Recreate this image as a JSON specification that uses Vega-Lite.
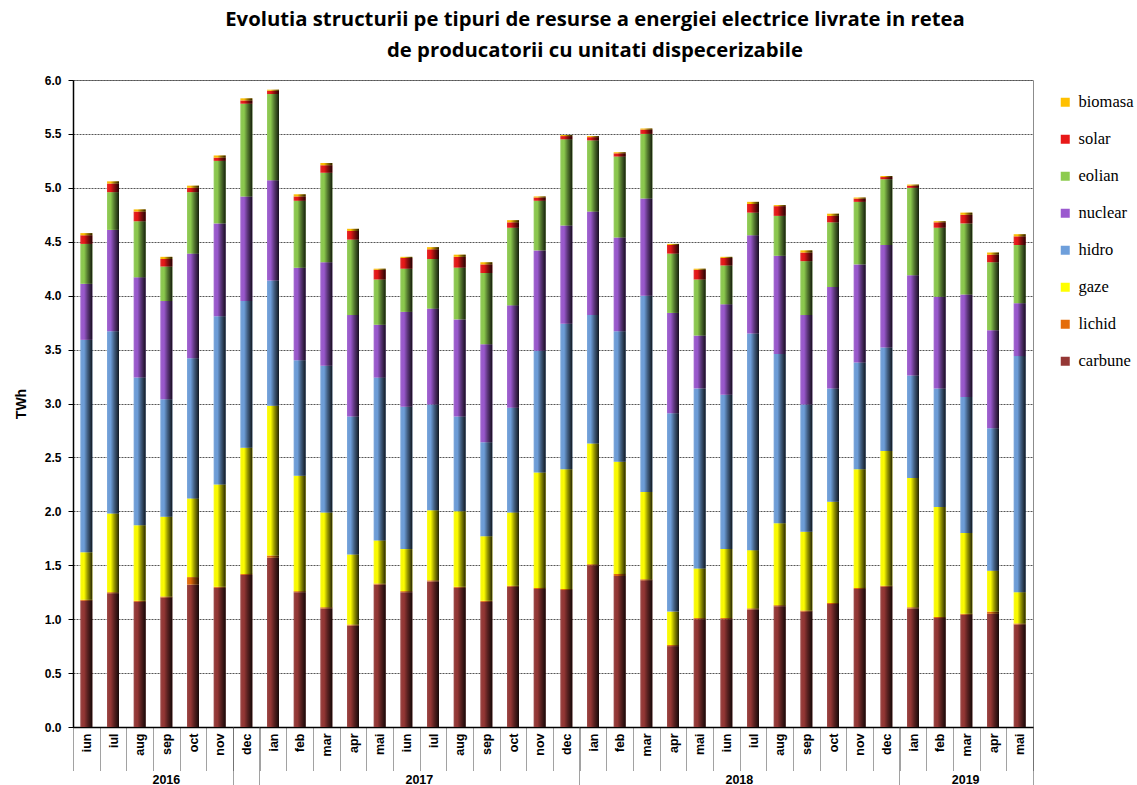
{
  "$schema": "https://vega.github.io/schema/vega-lite/v6.json",
  "width": 960,
  "height": 647,
  "autosize": {"type": "none"},
  "padding": {"left": 73, "top": 80, "right": 104, "bottom": 58},
  "background": "white",
  "title": {
    "text": ["Evolutia structurii pe tipuri de resurse a energiei electrice livrate in retea", "de producatorii cu unitati dispecerizabile"],
    "font": "Open Sans",
    "fontSize": 20.3,
    "fontWeight": "bold",
    "color": "black",
    "anchor": "middle",
    "dx": 42,
    "offset": 13,
    "lineHeight": 31
  },
  "datasets": {
    "types": [
      {"type": "carbune", "o": 1},
      {"type": "lichid", "o": 2},
      {"type": "gaze", "o": 3},
      {"type": "hidro", "o": 4},
      {"type": "nuclear", "o": 5},
      {"type": "eolian", "o": 6},
      {"type": "solar", "o": 7},
      {"type": "biomasa", "o": 8}
    ]
  },
  "data": {
    "values": [
      {"m": "2016-06", "carbune": 1.17, "lichid": 0.01, "gaze": 0.44, "hidro": 1.97, "nuclear": 0.52, "eolian": 0.37, "solar": 0.08, "biomasa": 0.02},
      {"m": "2016-07", "carbune": 1.24, "lichid": 0.01, "gaze": 0.73, "hidro": 1.69, "nuclear": 0.94, "eolian": 0.35, "solar": 0.08, "biomasa": 0.02},
      {"m": "2016-08", "carbune": 1.16, "lichid": 0.01, "gaze": 0.70, "hidro": 1.37, "nuclear": 0.93, "eolian": 0.52, "solar": 0.09, "biomasa": 0.02},
      {"m": "2016-09", "carbune": 1.20, "lichid": 0.01, "gaze": 0.74, "hidro": 1.09, "nuclear": 0.91, "eolian": 0.32, "solar": 0.07, "biomasa": 0.02},
      {"m": "2016-10", "carbune": 1.32, "lichid": 0.07, "gaze": 0.73, "hidro": 1.30, "nuclear": 0.97, "eolian": 0.57, "solar": 0.04, "biomasa": 0.02},
      {"m": "2016-11", "carbune": 1.29, "lichid": 0.01, "gaze": 0.95, "hidro": 1.56, "nuclear": 0.86, "eolian": 0.58, "solar": 0.03, "biomasa": 0.02},
      {"m": "2016-12", "carbune": 1.41, "lichid": 0.01, "gaze": 1.17, "hidro": 1.36, "nuclear": 0.97, "eolian": 0.86, "solar": 0.03, "biomasa": 0.02},
      {"m": "2017-01", "carbune": 1.57, "lichid": 0.02, "gaze": 1.39, "hidro": 1.16, "nuclear": 0.93, "eolian": 0.80, "solar": 0.03, "biomasa": 0.01},
      {"m": "2017-02", "carbune": 1.25, "lichid": 0.01, "gaze": 1.07, "hidro": 1.07, "nuclear": 0.86, "eolian": 0.62, "solar": 0.04, "biomasa": 0.02},
      {"m": "2017-03", "carbune": 1.10, "lichid": 0.01, "gaze": 0.88, "hidro": 1.36, "nuclear": 0.96, "eolian": 0.83, "solar": 0.07, "biomasa": 0.02},
      {"m": "2017-04", "carbune": 0.94, "lichid": 0.01, "gaze": 0.65, "hidro": 1.28, "nuclear": 0.94, "eolian": 0.70, "solar": 0.08, "biomasa": 0.02},
      {"m": "2017-05", "carbune": 1.32, "lichid": 0.01, "gaze": 0.40, "hidro": 1.51, "nuclear": 0.49, "eolian": 0.42, "solar": 0.09, "biomasa": 0.01},
      {"m": "2017-06", "carbune": 1.25, "lichid": 0.01, "gaze": 0.39, "hidro": 1.32, "nuclear": 0.88, "eolian": 0.40, "solar": 0.10, "biomasa": 0.01},
      {"m": "2017-07", "carbune": 1.35, "lichid": 0.01, "gaze": 0.65, "hidro": 0.98, "nuclear": 0.89, "eolian": 0.46, "solar": 0.09, "biomasa": 0.02},
      {"m": "2017-08", "carbune": 1.29, "lichid": 0.01, "gaze": 0.70, "hidro": 0.88, "nuclear": 0.90, "eolian": 0.48, "solar": 0.10, "biomasa": 0.02},
      {"m": "2017-09", "carbune": 1.16, "lichid": 0.01, "gaze": 0.60, "hidro": 0.87, "nuclear": 0.91, "eolian": 0.66, "solar": 0.08, "biomasa": 0.02},
      {"m": "2017-10", "carbune": 1.30, "lichid": 0.01, "gaze": 0.68, "hidro": 0.97, "nuclear": 0.95, "eolian": 0.72, "solar": 0.05, "biomasa": 0.02},
      {"m": "2017-11", "carbune": 1.28, "lichid": 0.01, "gaze": 1.07, "hidro": 1.13, "nuclear": 0.93, "eolian": 0.46, "solar": 0.03, "biomasa": 0.01},
      {"m": "2017-12", "carbune": 1.27, "lichid": 0.01, "gaze": 1.11, "hidro": 1.35, "nuclear": 0.91, "eolian": 0.80, "solar": 0.03, "biomasa": 0.01},
      {"m": "2018-01", "carbune": 1.50, "lichid": 0.01, "gaze": 1.12, "hidro": 1.19, "nuclear": 0.96, "eolian": 0.66, "solar": 0.03, "biomasa": 0.01},
      {"m": "2018-02", "carbune": 1.40, "lichid": 0.02, "gaze": 1.04, "hidro": 1.21, "nuclear": 0.87, "eolian": 0.75, "solar": 0.03, "biomasa": 0.01},
      {"m": "2018-03", "carbune": 1.36, "lichid": 0.01, "gaze": 0.81, "hidro": 1.82, "nuclear": 0.90, "eolian": 0.60, "solar": 0.04, "biomasa": 0.01},
      {"m": "2018-04", "carbune": 0.75, "lichid": 0.01, "gaze": 0.31, "hidro": 1.84, "nuclear": 0.93, "eolian": 0.55, "solar": 0.08, "biomasa": 0.01},
      {"m": "2018-05", "carbune": 1.00, "lichid": 0.01, "gaze": 0.46, "hidro": 1.67, "nuclear": 0.49, "eolian": 0.52, "solar": 0.09, "biomasa": 0.01},
      {"m": "2018-06", "carbune": 1.00, "lichid": 0.01, "gaze": 0.64, "hidro": 1.43, "nuclear": 0.84, "eolian": 0.36, "solar": 0.07, "biomasa": 0.01},
      {"m": "2018-07", "carbune": 1.09, "lichid": 0.01, "gaze": 0.54, "hidro": 2.01, "nuclear": 0.91, "eolian": 0.21, "solar": 0.08, "biomasa": 0.02},
      {"m": "2018-08", "carbune": 1.12, "lichid": 0.01, "gaze": 0.76, "hidro": 1.57, "nuclear": 0.91, "eolian": 0.37, "solar": 0.09, "biomasa": 0.01},
      {"m": "2018-09", "carbune": 1.07, "lichid": 0.01, "gaze": 0.73, "hidro": 1.18, "nuclear": 0.83, "eolian": 0.50, "solar": 0.08, "biomasa": 0.02},
      {"m": "2018-10", "carbune": 1.14, "lichid": 0.01, "gaze": 0.94, "hidro": 1.05, "nuclear": 0.94, "eolian": 0.60, "solar": 0.06, "biomasa": 0.02},
      {"m": "2018-11", "carbune": 1.28, "lichid": 0.01, "gaze": 1.10, "hidro": 0.99, "nuclear": 0.91, "eolian": 0.58, "solar": 0.03, "biomasa": 0.01},
      {"m": "2018-12", "carbune": 1.30, "lichid": 0.01, "gaze": 1.25, "hidro": 0.96, "nuclear": 0.95, "eolian": 0.61, "solar": 0.02, "biomasa": 0.01},
      {"m": "2019-01", "carbune": 1.10, "lichid": 0.01, "gaze": 1.20, "hidro": 0.95, "nuclear": 0.93, "eolian": 0.81, "solar": 0.02, "biomasa": 0.01},
      {"m": "2019-02", "carbune": 1.01, "lichid": 0.01, "gaze": 1.02, "hidro": 1.10, "nuclear": 0.85, "eolian": 0.64, "solar": 0.05, "biomasa": 0.01},
      {"m": "2019-03", "carbune": 1.04, "lichid": 0.01, "gaze": 0.75, "hidro": 1.26, "nuclear": 0.95, "eolian": 0.66, "solar": 0.08, "biomasa": 0.02},
      {"m": "2019-04", "carbune": 1.05, "lichid": 0.02, "gaze": 0.38, "hidro": 1.32, "nuclear": 0.91, "eolian": 0.63, "solar": 0.07, "biomasa": 0.02},
      {"m": "2019-05", "carbune": 0.95, "lichid": 0.01, "gaze": 0.29, "hidro": 2.19, "nuclear": 0.49, "eolian": 0.54, "solar": 0.08, "biomasa": 0.02}
    ]
  },
  "transform": [
    {"fold": ["carbune", "lichid", "gaze", "hidro", "nuclear", "eolian", "solar", "biomasa"], "as": ["key", "value"]},
    {"lookup": "key", "from": {"data": {"name": "types"}, "key": "type", "fields": ["o"]}}
  ],
  "layer": [
    {
      "mark": {"type": "bar", "width": {"band": 0.45}},
      "encoding": {
        "x": {
          "field": "m",
          "type": "ordinal",
          "scale": {"paddingInner": 0, "paddingOuter": 0},
          "axis": {
            "title": null,
            "orient": "bottom",
            "labelAngle": 270,
            "labelAlign": "right",
            "labelBaseline": "middle",
            "labelExpr": "['ian','feb','mar','apr','mai','iun','iul','aug','sep','oct','nov','dec'][toNumber(substring(datum.value,5,7))-1]",
            "labelFont": "Liberation Sans",
            "labelFontWeight": "bold",
            "labelFontSize": 12.5,
            "labelColor": "black",
            "labelPadding": -38,
            "tickBand": "extent",
            "tickSize": 44,
            "tickColor": "#444444",
            "tickDash": [1, 1],
            "tickWidth": 1,
            "domainColor": "black",
            "domainWidth": 1.5,
            "grid": false
          }
        },
        "y": {
          "field": "value",
          "type": "quantitative",
          "stack": "zero",
          "scale": {"domain": [0, 6], "nice": false},
          "axis": {
            "title": "TWh",
            "titleFont": "Liberation Sans",
            "titleFontSize": 14,
            "titleFontWeight": "bold",
            "titleColor": "black",
            "titlePadding": 16,
            "values": [0, 0.5, 1, 1.5, 2, 2.5, 3, 3.5, 4, 4.5, 5, 5.5, 6],
            "format": ".1f",
            "labelFont": "Liberation Sans",
            "labelFontWeight": "bold",
            "labelFontSize": 12,
            "labelColor": "black",
            "labelPadding": 7,
            "tickSize": 5,
            "tickColor": "black",
            "domainColor": "black",
            "domainWidth": 1.5,
            "grid": true,
            "gridColor": "#555555",
            "gridDash": [2, 1],
            "gridWidth": 1
          }
        },
        "color": {
          "field": "key",
          "type": "nominal",
          "scale": {
            "domain": ["biomasa", "solar", "eolian", "nuclear", "hidro", "gaze", "lichid", "carbune"],
            "range": ["#FFC000", "#E81818", "#8DCB4E", "#9B59CF", "#6E9FDB", "#FFFF00", "#E46C0A", "#953735"]
          },
          "legend": {
            "title": null,
            "orient": "none",
            "legendX": 984,
            "legendY": 14,
            "symbolType": "square",
            "symbolSize": 81,
            "symbolStrokeWidth": 0,
            "labelFont": "Liberation Serif",
            "labelFontSize": 16.5,
            "labelColor": "black",
            "labelOffset": 5,
            "rowPadding": 20
          }
        },
        "order": {"field": "o", "type": "quantitative"}
      }
    },
    {
      "mark": {
        "type": "bar",
        "width": {"band": 0.45},
        "fill": {
          "gradient": "linear",
          "x1": 0, "x2": 1, "y1": 0, "y2": 0,
          "stops": [
            {"offset": 0, "color": "rgba(255,255,255,0.12)"},
            {"offset": 0.3, "color": "rgba(0,0,0,0)"},
            {"offset": 0.6, "color": "rgba(0,0,0,0.4)"},
            {"offset": 1, "color": "rgba(0,0,0,0.85)"}
          ]
        }
      },
      "encoding": {
        "x": {
          "field": "m",
          "type": "ordinal",
          "axis": {
            "title": null,
            "orient": "bottom",
            "domain": false,
            "grid": false,
            "values": ["2016-12", "2017-12", "2018-12", "2019-05"],
            "bandPosition": 1,
            "tickExtra": true,
            "tickSize": 58,
            "tickColor": "#444444",
            "tickDash": [1, 1],
            "tickWidth": 1,
            "labelAngle": 0,
            "labelAlign": "center",
            "labelBaseline": "top",
            "labelExpr": "isValid(datum.value) ? substring(datum.value,0,4) : ''",
            "labelFont": "Liberation Sans",
            "labelFontWeight": "bold",
            "labelFontSize": 12.5,
            "labelColor": "black",
            "labelPadding": -12,
            "labelOffset": {
              "condition": [
                {"test": "datum.value == '2016-12'", "value": -80},
                {"test": "datum.value == '2019-05'", "value": -54}
              ],
              "value": -147
            }
          }
        },
        "y": {"field": "value", "type": "quantitative", "stack": "zero"},
        "detail": {"field": "key"},
        "order": {"field": "o", "type": "quantitative"}
      }
    }
  ],
  "resolve": {"axis": {"x": "independent"}},
  "config": {
    "view": {"stroke": "#8c8c8c", "strokeWidth": 1}
  }
}
